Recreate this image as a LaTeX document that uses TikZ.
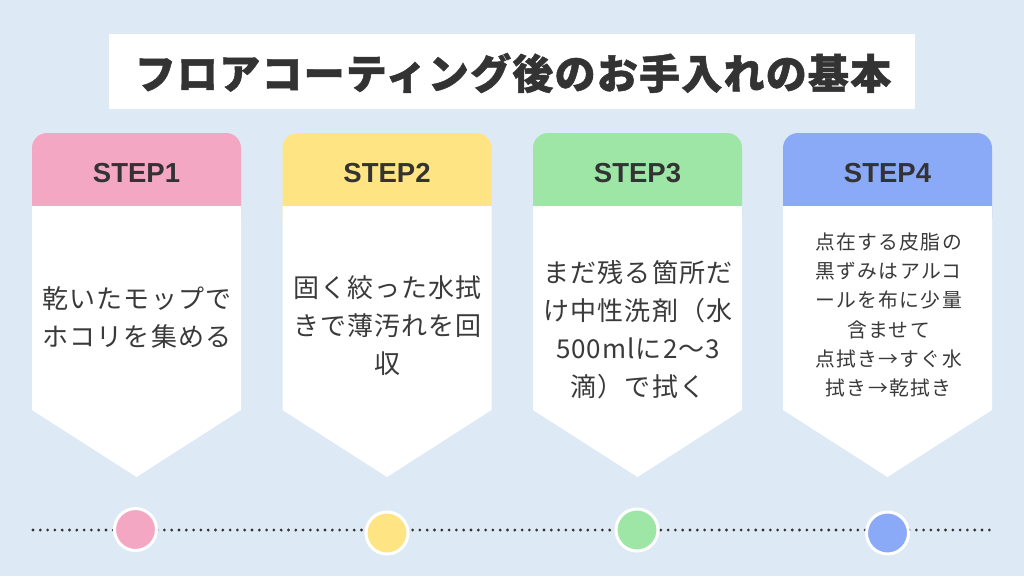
\documentclass[tikz,border=0pt]{standalone}
\usepackage{fontspec}
\setmainfont{Noto Sans CJK JP}
\newfontfamily\titlefont[LetterSpace=3, FakeBold=1.2]{Noto Sans CJK JP}
\newfontfamily\stepfont{Liberation Sans}
\newfontfamily\bodyfont[LetterSpace=4]{Noto Sans CJK JP}
\newfontfamily\smallbodyfont[LetterSpace=7]{Noto Sans CJK JP}
\definecolor{bg}{HTML}{DDEAF5}
\definecolor{pinkc}{HTML}{F4A7C3}
\definecolor{yellowc}{HTML}{FFE483}
\definecolor{greenc}{HTML}{9DE6A6}
\definecolor{bluec}{HTML}{8AAAF7}
\definecolor{ink}{HTML}{333333}
\definecolor{bodyink}{HTML}{3A3A3A}
\tikzset{
  steplabel/.style={inner sep=0pt, text=ink, font=\stepfont\bfseries\fontsize{27.5}{30}\selectfont},
  bodytext/.style={inner sep=0pt, align=center, text=bodyink, font=\bodyfont\fontsize{26}{38}\selectfont},
  smallbodytext/.style={inner sep=0pt, align=center, text=bodyink, font=\smallbodyfont\fontsize{19.8}{29.2}\selectfont},
  stepdot/.style={circle, draw=white, line width=3pt, minimum size=42pt, inner sep=0pt},
  dotline/.style={draw=ink, line width=3.1pt, line cap=round, dash pattern=on 0pt off 7.3pt},
}
\newcommand{\stepcard}[2]{% left, color
  \fill[#2, rounded corners=15pt] (#1,133) rectangle ++(209,100);
  \fill[white] (#1,206) -- ++(209,0) -- ++(0,204) -- ++(-104.5,67) -- ++(-104.5,-67) -- cycle;
}
\begin{document}
\begin{tikzpicture}[x=1pt,y=-1pt]
\useasboundingbox (0,0) rectangle (1024,576);
\fill[bg] (0,0) rectangle (1024,576);
% title
\fill[white] (109,34) rectangle (915,109);
\node[inner sep=0pt, text=ink, font=\titlefont\bfseries\fontsize{41}{44}\selectfont] (title) at (513,73) {フロアコーティング後のお手入れの基本};
% cards
\stepcard{32}{pinkc}
\stepcard{282.5}{yellowc}
\stepcard{533}{greenc}
\stepcard{783}{bluec}
\node[steplabel] (s1) at (136.5,173) {STEP1};
\node[steplabel] (s2) at (387,173) {STEP2};
\node[steplabel] (s3) at (637.5,173) {STEP3};
\node[steplabel] (s4) at (887.5,173) {STEP4};
\node[bodytext] (b1) at (137,318) {乾いたモップで\\ホコリを集める};
\node[bodytext] (b2) at (387.5,326) {固く絞った水拭\\きで薄汚れを回\\収};
\node[bodytext] (b3) at (638,330) {まだ残る箇所だ\\け中性洗剤（水\\500mlに2〜3\\滴）で拭く};
\node[smallbodytext] (b4) at (888.5,315) {点在する皮脂の\\黒ずみはアルコ\\ールを布に少量\\含ませて\\点拭き→すぐ水\\拭き→乾拭き};
% timeline
\coordinate (tstart) at (33,530);
\coordinate (tend) at (991,530);
\draw[dotline] (tstart) -- (tend);
\node[stepdot, fill=pinkc] (c1) at (135.5,529.5) {};
\node[stepdot, fill=yellowc] (c2) at (387,533) {};
\node[stepdot, fill=greenc] (c3) at (637,530) {};
\node[stepdot, fill=bluec] (c4) at (887.5,533) {};
\end{tikzpicture}
\end{document}
